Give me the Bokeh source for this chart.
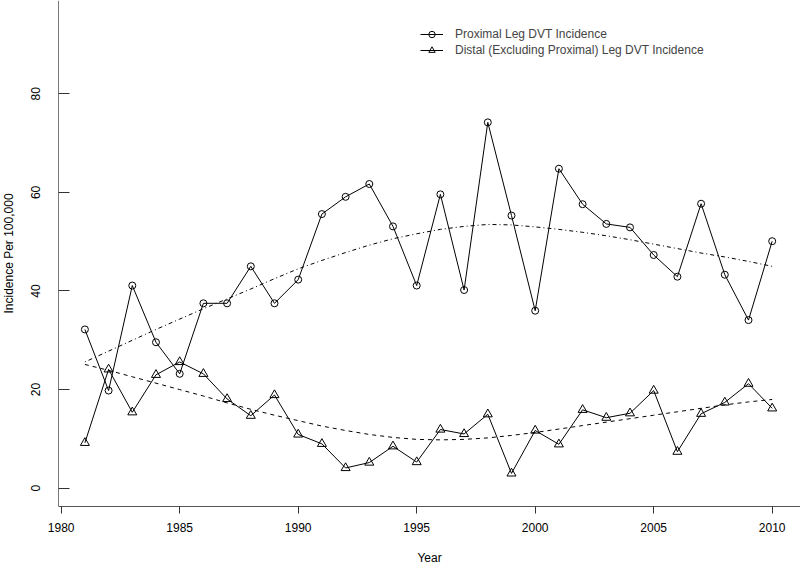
from bokeh.plotting import figure
from bokeh.models import (Range1d, FixedTicker, Legend, LegendItem, ColumnDataSource,
                          LinearAxis)
from bokeh.embed import file_html
from bokeh.resources import INLINE

years = list(range(1981, 2011))
proximal = [32.2, 19.8, 41.1, 29.6, 23.2, 37.5, 37.5, 45.0, 37.5, 42.3,
            55.6, 59.1, 61.7, 53.1, 41.1, 59.6, 40.2, 74.2, 55.3, 36.0,
            64.8, 57.6, 53.6, 52.9, 47.3, 42.9, 57.7, 43.3, 34.1, 50.1]
distal = [9.2, 24.1, 15.4, 23.0, 25.6, 23.2, 18.1, 14.7, 18.9, 10.9,
          9.0, 4.1, 5.2, 8.5, 5.3, 11.9, 11.0, 15.0, 3.0, 11.7,
          8.9, 15.9, 14.3, 15.2, 19.8, 7.4, 15.1, 17.4, 21.2, 16.2]
proximal_trend = [25.6, 27.8, 30.0, 32.2, 34.3, 36.4, 38.4, 40.4, 42.5, 44.5,
                  46.2, 47.8, 49.3, 50.6, 51.6, 52.5, 53.1, 53.5, 53.4, 53.0,
                  52.5, 51.9, 51.2, 50.4, 49.5, 48.6, 47.7, 46.9, 46.0, 45.0]
distal_trend = [25.1, 23.9, 22.6, 21.3, 20.0, 18.7, 17.3, 16.0, 14.8, 13.7,
                12.6, 11.7, 10.9, 10.3, 9.9, 9.8, 9.9, 10.2, 10.7, 11.3,
                12.0, 12.7, 13.4, 14.1, 14.8, 15.5, 16.2, 16.9, 17.5, 18.0]
x_ticks = [1980, 1985, 1990, 1995, 2000, 2005, 2010]
y_ticks = [0, 20, 40, 60, 80]
labels = ["Proximal Leg DVT Incidence", "Distal (Excluding Proximal) Leg DVT Incidence"]
x_title = "Year"
y_title = "Incidence Per 100,000"

# plot-region limits (the L-shaped axes meet at x_lo, y_lo)
x_lo, x_hi = 1979.886, 2011.194
y_lo, y_hi = -3.71, 98.92

FONT = "Liberation Sans"

src = ColumnDataSource(dict(year=years, prox=proximal, dist=distal,
                            ptrend=proximal_trend, dtrend=distal_trend))

p = figure(width=800, height=565, output_backend="svg", toolbar_location=None,
           x_range=Range1d(1977.439, x_hi), y_range=Range1d(-15.68, y_hi),
           x_axis_type=None, y_axis_type=None,
           min_border_left=0, min_border_right=0, min_border_top=0, min_border_bottom=0)
p.outline_line_color = None
p.grid.visible = False
p.background_fill_color = "white"
p.border_fill_color = "white"

xa = LinearAxis(fixed_location=y_lo, bounds=(x_lo, x_hi), axis_label=x_title)
xa.ticker = FixedTicker(ticks=x_ticks)
xa.minor_tick_line_color = None
xa.major_tick_in = 0
xa.major_tick_out = 7
xa.major_label_standoff = 10
xa.axis_label_standoff = 15
xa.axis_line_color = "#555555"
xa.major_tick_line_color = "#333333"

ya = LinearAxis(fixed_location=x_lo, bounds=(y_lo, y_hi), axis_label=y_title)
ya.ticker = FixedTicker(ticks=y_ticks)
ya.minor_tick_line_color = None
ya.major_tick_in = 11
ya.major_tick_out = 0
ya.major_label_orientation = "vertical"
ya.major_label_standoff = 18
ya.axis_label_standoff = 13
ya.axis_line_color = "#777777"
ya.major_tick_line_color = "#333333"

for ax in (xa, ya):
    ax.major_label_text_font = FONT
    ax.major_label_text_font_size = "12px"
    ax.major_label_text_color = "black"
    ax.axis_label_text_font = FONT
    ax.axis_label_text_font_size = "12px"
    ax.axis_label_text_font_style = "normal"
    ax.axis_label_text_color = "black"

p.add_layout(xa, "below")
p.add_layout(ya, "left")

# trend lines
p.line("year", "ptrend", source=src, line_color="black", line_width=1, line_dash="1 3 4 3")
p.line("year", "dtrend", source=src, line_color="black", line_width=1, line_dash="4 4")

# data series
l1 = p.line("year", "prox", source=src, line_color="black", line_width=1)
s1 = p.scatter("year", "prox", source=src, marker="circle", size=7,
               fill_color=None, line_color="black", line_width=1)
l2 = p.line("year", "dist", source=src, line_color="black", line_width=1)
s2 = p.scatter("year", "dist", source=src, marker="triangle", size=9,
               fill_color=None, line_color="black", line_width=1)

legend = Legend(items=[LegendItem(label=labels[0], renderers=[l1, s1]),
                       LegendItem(label=labels[1], renderers=[l2, s2])],
                location=(420, 507), padding=0, margin=0, spacing=0,
                glyph_width=23, glyph_height=16, label_height=16, label_standoff=12,
                border_line_color=None, background_fill_alpha=0,
                label_text_font=FONT, label_text_font_size="12px")
p.add_layout(legend)

open("out.html", "w").write(file_html(p, INLINE))
